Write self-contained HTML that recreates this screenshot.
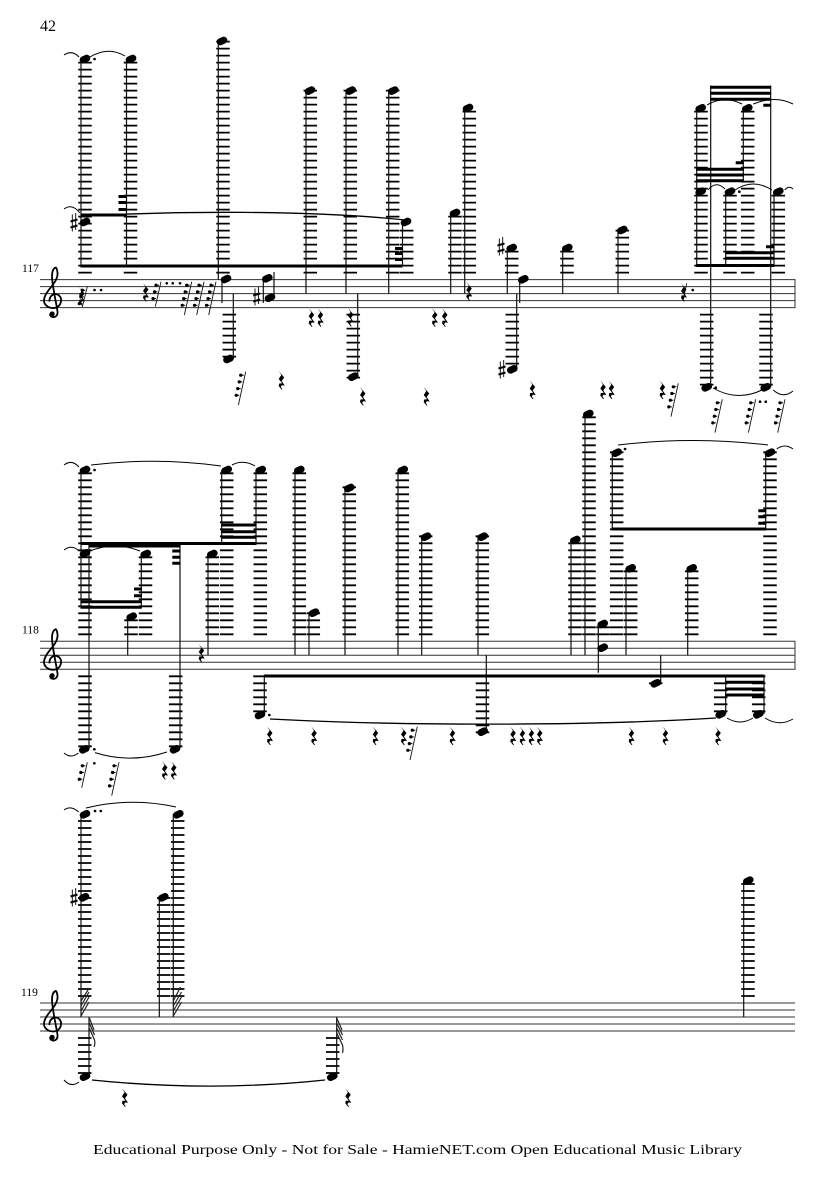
<!DOCTYPE html>
<html><head><meta charset="utf-8"><title>Score page 42</title>
<style>html,body{margin:0;padding:0;background:#fff}svg{display:block}text{font-family:"Liberation Serif",serif;fill:#000}</style></head>
<body>
<svg width="835" height="1181" viewBox="0 0 835 1181" xmlns="http://www.w3.org/2000/svg">
<rect width="835" height="1181" fill="#fff"/>
<text x="40" y="31" font-size="16">42</text>
<text x="22" y="272" font-size="11.5">117</text>
<text x="22" y="633.5" font-size="11.5">118</text>
<text x="21" y="996" font-size="11.5">119</text>
<text x="93" y="1154" font-size="14" textLength="649" lengthAdjust="spacingAndGlyphs">Educational Purpose Only - Not for Sale - HamieNET.com Open Educational Music Library</text>

<!-- staves -->
<path fill="none" stroke="#333" stroke-width="1" d="M40 279.6H795M40 286.6H795M40 293.6H795M40 300.6H795M40 307.6H795M795 279.1V308.1
M40 641.3H795M40 648.3H795M40 655.3H795M40 662.3H795M40 669.3H795M795 640.8V669.8
M40 1003H795M40 1010H795M40 1017H795M40 1024H795M40 1031H795"/>

<!-- clefs -->
<g fill="none" stroke="#000" stroke-width="1.8">
<path transform="translate(53,300.6)" d="M-3.5 1C-4-4 0-7 3-6.5C7-6 8.5-2 8 .5C7.5 5 4 7.5 0 7.5C-5 7.5-9 4-9 0C-9-6-3-12 0-16C3-20 5-24 4.5-28C4-32 3-33.5 2.5-33C0-32-1-28-1-24C-1-16 4 6 4.5 11C5 15 2 17 0 16.5C-2 16.5-3 15-3 13.5"/>
<path transform="translate(53,662.3)" d="M-3.5 1C-4-4 0-7 3-6.5C7-6 8.5-2 8 .5C7.5 5 4 7.5 0 7.5C-5 7.5-9 4-9 0C-9-6-3-12 0-16C3-20 5-24 4.5-28C4-32 3-33.5 2.5-33C0-32-1-28-1-24C-1-16 4 6 4.5 11C5 15 2 17 0 16.5C-2 16.5-3 15-3 13.5"/>
<path transform="translate(53,1024)" d="M-3.5 1C-4-4 0-7 3-6.5C7-6 8.5-2 8 .5C7.5 5 4 7.5 0 7.5C-5 7.5-9 4-9 0C-9-6-3-12 0-16C3-20 5-24 4.5-28C4-32 3-33.5 2.5-33C0-32-1-28-1-24C-1-16 4 6 4.5 11C5 15 2 17 0 16.5C-2 16.5-3 15-3 13.5"/>
</g>
<path fill="#000" d="M49.5 314a2.6 2.6 0 1 0 5.2 0a2.6 2.6 0 1 0-5.2 0zM49.5 675.7a2.6 2.6 0 1 0 5.2 0a2.6 2.6 0 1 0-5.2 0zM49.5 1037.4a2.6 2.6 0 1 0 5.2 0a2.6 2.6 0 1 0-5.2 0z"/>

<!-- ledger lines -->
<path fill="none" stroke="#000" stroke-width="13.5" stroke-dasharray="1.8 5.2" d="
M85 61.7V273.5M130.5 61.7V273.5M223 40.7V273.5M310.3 89.7V273.5M350.3 89.7V273.5M392.7 89.7V273.5M406.7 229.7V273.5M455 215.7V273.5M469.3 110.7V273.5M511.7 250.7V273.5M567 250.7V273.5M622.3 229.7V273.5M701 110.7V273.5M747.7 110.7V273.5M730 194.7V273.5M778.3 194.7V273.5
M229.3 313.7V357.5M353.3 313.7V378.5M512.3 313.7V364.5M706.7 313.7V385.5M766 313.7V385.5
M85 472.4V635.2M145.5 556.4V635.2M131 619.4V635.2M212.3 556.4V635.2M226.7 472.4V635.2M260.3 472.4V635.2M299.3 472.4V635.2M313.3 612.4V635.2M349.3 486.4V635.2M402.3 472.4V635.2M425.7 535.4V635.2M482.3 535.4V635.2M575 542.4V635.2M589 416.4V635.2M603 626.4V635.2M616.7 451.4V635.2M770 451.4V635.2M630.7 570.4V635.2M691.7 570.4V635.2
M85 675.4V747.2M175.7 675.4V747.2M260 675.4V712.2M482.5 675.4V733.2M720.7 675.4V712.2M758.7 675.4V712.2M655.7 675.4V684.2
M84.7 820.1V997M163.7 897.1V997M177.7 820.1V997M748 883.1V997
M84.7 1037.1V1074M332.7 1037.1V1074"/>

<!-- stems -->
<path fill="none" stroke="#111" stroke-width="1.2" d="
M81 59V266M126.5 59V266M218.3 41V280M222 279V303M233.3 293.6V359M263.3 278V303M274 297V272M306 90V293.6M346 90V293.6M388.7 90V293.6M357.7 293.6V377M402.5 222V266M450.7 213V293.6M464.7 108V293.6M507.3 248V293.6M519.7 279V303M516.7 293.6V369M562.7 248V293.6M618 230V293.6M696.7 108V266M743.3 108V181M710.7 85.5V387M770.7 85.5V387M725.7 191V266M774 191V266
M81 470V608M89 544V748M141.3 554V608M127.7 617V655.3M180 545V748M208 554V655.3M221.7 470V543M256 470V544M295 470V655.3M309 612V655.3M345 488V655.3M398 470V655.3M264.3 677V715M421.7 537V655.3M478 537V655.3M486.3 655.3V732M571 540V655.3M585 414V655.3M598.3 624V672.7M612.3 452V529M765.7 452V529M626 568V655.3M687.7 568V655.3M660.7 655.3V683M725.7 676V714M764 676V714
M81 814V1017M159.3 897V1017M173.3 814V1017M89 1017V1076M336.7 1017V1076M743.7 881V1017"/>

<!-- beams -->
<path fill="none" stroke="#000" stroke-width="3" d="
M80.5 215H126.5M118.5 196.5H126.5M118.5 202.5H126.5M118.5 209.5H126.5M80.5 266H402.5M395 248.5H402.5M395 253.5H402.5M395 259.5H402.5
M710 87.3H771M710 93.3H771M710 99.3H771M763.3 105.3H771M696.2 169.3H743.8M696.2 175H743.8M696.2 180.7H743.8M735.7 162.7H743.8M696.2 265.5H774.5M725.2 252.7H774.5M725.2 258.3H774.5M766 246.7H774.5
M80.5 543.5H256.5M88.5 546H180.5M172.3 551H180.5M172.3 557.3H180.5M172.3 563.3H180.5M80.5 601.7H141.8M80.5 607.3H141.8M134 589H141.8M134 595.7H141.8M221.2 525H256.5M221.2 531.7H256.5M221.2 537.3H256.5
M263.8 676H764.5M725.2 682.3H764.5M725.2 689H764.5M725.2 695H764.5M611.8 529H766.2M758.3 510.7H766.2M758.3 516.7H766.2M758.3 523.3H766.2"/>

<!-- note heads -->
<path fill="none" stroke="#000" stroke-width="7" stroke-linecap="round" d="
M82.5 60.1m.7-.25l3.6-1.7M128.5 60.1m.7-.25l3.6-1.7M82.5 223.1m.7-.25l3.6-1.7M403.5 223.1m.7-.25l3.6-1.7M219.5 42.1m.7-.25l3.6-1.7M223.5 280.1m.7-.25l3.6-1.7M226 360.1m.7-.25l3.6-1.7M264.8 279.4m.7-.25l3.6-1.7M267.5 298.8m.7-.25l3.6-1.7M307.5 91.7m.7-.25l3.6-1.7M348.2 91.7m.7-.25l3.6-1.7M390.8 91.7m.7-.25l3.6-1.7M350.8 377.8m.7-.25l3.6-1.7M452.5 214.1m.7-.25l3.6-1.7M465.5 109.1m.7-.25l3.6-1.7M509.2 249.1m.7-.25l3.6-1.7M520.8 280.4m.7-.25l3.6-1.7M509.8 370.4m.7-.25l3.6-1.7M564.8 249.1m.7-.25l3.6-1.7M619.8 231.1m.7-.25l3.6-1.7M698.2 109.4m.7-.25l3.6-1.7M744.8 109.4m.7-.25l3.6-1.7M704.2 388.4m.7-.25l3.6-1.7M763.2 388.4m.7-.25l3.6-1.7M698.2 192.8m.7-.25l3.6-1.7M727.5 192.8m.7-.25l3.6-1.7M775.8 192.8m.7-.25l3.6-1.7
M82.5 471.1m.7-.25l3.6-1.7M81.8 750.4m.7-.25l3.6-1.7M172.5 750.4m.7-.25l3.6-1.7M82.5 554.4m.7-.25l3.6-1.7M143.2 555.1m.7-.25l3.6-1.7M129.2 617.8m.7-.25l3.6-1.7M209.8 555.1m.7-.25l3.6-1.7M224.2 471.1m.7-.25l3.6-1.7M258.2 471.1m.7-.25l3.6-1.7M296.8 471.1m.7-.25l3.6-1.7M311.5 613.8m.7-.25l3.6-1.7M346.8 489.1m.7-.25l3.6-1.7M400.2 471.1m.7-.25l3.6-1.7M257.5 716.1m.7-.25l3.6-1.7M423.5 537.8m.7-.25l3.6-1.7M480.2 537.8m.7-.25l3.6-1.7M480.2 732.8m.7-.25l3.6-1.7M572.8 541.1m.7-.25l3.6-1.7M585.8 415.1m.7-.25l3.6-1.7M600.2 625.1m.7-.25l3.6-1.7M600.2 648.8m.7-.25l3.6-1.7M614.2 453.8m.7-.25l3.6-1.7M767.5 453.8m.7-.25l3.6-1.7M628.2 569.4m.7-.25l3.6-1.7M689.2 569.4m.7-.25l3.6-1.7M653.2 684.4m.7-.25l3.6-1.7M718.2 715.4m.7-.25l3.6-1.7M755.8 715.4m.7-.25l3.6-1.7
M82.5 815.4m.7-.25l3.6-1.7M81.5 898.4m.7-.25l3.6-1.7M160.8 898.4m.7-.25l3.6-1.7M175.8 815.4m.7-.25l3.6-1.7M82.5 1077.8m.7-.25l3.6-1.7M329.8 1077.8m.7-.25l3.6-1.7M745.8 881.8m.7-.25l3.6-1.7"/>

<!-- dots -->
<path fill="none" stroke="#000" stroke-width="2.6" stroke-linecap="round" d="M94.5 59h.1M94.5 290h.1M101 290h.1M166.7 283.3h.1M172.7 283.3h.1M180 283.3h.1M692.7 290h.1M715.7 387.7h.1M739.3 191.7h.1M760 401.7h.1M765.7 401.7h.1M94.5 470h.1M94.3 749.3h.1M94.3 763.3h.1M269.3 715h.1M625 449h.1M95 811h.1M100.7 811h.1"/>

<!-- ties -->
<path fill="none" stroke="#000" stroke-width="1" d="
M64 55Q72 49.5 79 57M90 57Q108 46 125 56M64 209Q72 203 80 213M707 105Q724 95 742 104M753.3 104Q775 95 793 104M708 190Q716 180 725 189M735 190Q753 178 772 190M784.7 190Q789 185 793 189M713 388Q737 402 762 390M773.3 390Q783 399 793 391
M64 465Q72 459 79 467M91 465Q156 457 221 466M232 465Q243 459 255 466M64 550Q72 544 79 551M90 551Q115 541 140 551M64 753Q71 759 78.3 753M95 752.6Q131 764 167 752M618 445Q693 436 768 445M776.7 449Q785 443 793 449M727 718Q740 726 753 718M765 718Q779 727 793 719
M64 810Q71 805 78.5 812M86 808Q131 797 176 807M64 1080Q71 1088 79 1082"/>
<path fill="none" stroke="#000" stroke-width="1.3" d="M82 216C180 211 310 210 405 220M270 719C400 726 590 726 716 718M92 1080C170 1088 250 1088 325 1080"/>

<!-- quarter rests -->
<path fill="#000" d="
M143 283l5.5 6.5-2.5 3.5 3 4.5-3-.3-.8 1.8 1.6 2.5h-1l-2.8-3.5.5-2.5 3-.2-3.5-4.3 2.6-4z
M308.7 308.3l5.5 6.5-2.5 3.5 3 4.5-3-.3-.8 1.8 1.6 2.5h-1l-2.8-3.5.5-2.5 3-.2-3.5-4.3 2.6-4z
M317.7 308.3l5.5 6.5-2.5 3.5 3 4.5-3-.3-.8 1.8 1.6 2.5h-1l-2.8-3.5.5-2.5 3-.2-3.5-4.3 2.6-4z
M348 308l5.5 6.5-2.5 3.5 3 4.5-3-.3-.8 1.8 1.6 2.5h-1l-2.8-3.5.5-2.5 3-.2-3.5-4.3 2.6-4z
M278.7 371l5.5 6.5-2.5 3.5 3 4.5-3-.3-.8 1.8 1.6 2.5h-1l-2.8-3.5.5-2.5 3-.2-3.5-4.3 2.6-4z
M360 387l5.5 6.5-2.5 3.5 3 4.5-3-.3-.8 1.8 1.6 2.5h-1l-2.8-3.5.5-2.5 3-.2-3.5-4.3 2.6-4z
M432 308.3l5.5 6.5-2.5 3.5 3 4.5-3-.3-.8 1.8 1.6 2.5h-1l-2.8-3.5.5-2.5 3-.2-3.5-4.3 2.6-4z
M442 308.3l5.5 6.5-2.5 3.5 3 4.5-3-.3-.8 1.8 1.6 2.5h-1l-2.8-3.5.5-2.5 3-.2-3.5-4.3 2.6-4z
M466.3 282l5.5 6.5-2.5 3.5 3 4.5-3-.3-.8 1.8 1.6 2.5h-1l-2.8-3.5.5-2.5 3-.2-3.5-4.3 2.6-4z
M423.7 387l5.5 6.5-2.5 3.5 3 4.5-3-.3-.8 1.8 1.6 2.5h-1l-2.8-3.5.5-2.5 3-.2-3.5-4.3 2.6-4z
M529.7 380.5l5.5 6.5-2.5 3.5 3 4.5-3-.3-.8 1.8 1.6 2.5h-1l-2.8-3.5.5-2.5 3-.2-3.5-4.3 2.6-4z
M600.3 380.5l5.5 6.5-2.5 3.5 3 4.5-3-.3-.8 1.8 1.6 2.5h-1l-2.8-3.5.5-2.5 3-.2-3.5-4.3 2.6-4z
M608.7 380.5l5.5 6.5-2.5 3.5 3 4.5-3-.3-.8 1.8 1.6 2.5h-1l-2.8-3.5.5-2.5 3-.2-3.5-4.3 2.6-4z
M659.7 380.5l5.5 6.5-2.5 3.5 3 4.5-3-.3-.8 1.8 1.6 2.5h-1l-2.8-3.5.5-2.5 3-.2-3.5-4.3 2.6-4z
M681 283l5.5 6.5-2.5 3.5 3 4.5-3-.3-.8 1.8 1.6 2.5h-1l-2.8-3.5.5-2.5 3-.2-3.5-4.3 2.6-4z
M79 287l5.5 6.5-2.5 3.5 3 4.5-3-.3-.8 1.8 1.6 2.5h-1l-2.8-3.5.5-2.5 3-.2-3.5-4.3 2.6-4z
M162 761l5.5 6.5-2.5 3.5 3 4.5-3-.3-.8 1.8 1.6 2.5h-1l-2.8-3.5.5-2.5 3-.2-3.5-4.3 2.6-4z
M171 761l5.5 6.5-2.5 3.5 3 4.5-3-.3-.8 1.8 1.6 2.5h-1l-2.8-3.5.5-2.5 3-.2-3.5-4.3 2.6-4z
M198.7 644l5.5 6.5-2.5 3.5 3 4.5-3-.3-.8 1.8 1.6 2.5h-1l-2.8-3.5.5-2.5 3-.2-3.5-4.3 2.6-4z
M267 726.5l5.5 6.5-2.5 3.5 3 4.5-3-.3-.8 1.8 1.6 2.5h-1l-2.8-3.5.5-2.5 3-.2-3.5-4.3 2.6-4z
M311.3 726.5l5.5 6.5-2.5 3.5 3 4.5-3-.3-.8 1.8 1.6 2.5h-1l-2.8-3.5.5-2.5 3-.2-3.5-4.3 2.6-4z
M372.7 726.5l5.5 6.5-2.5 3.5 3 4.5-3-.3-.8 1.8 1.6 2.5h-1l-2.8-3.5.5-2.5 3-.2-3.5-4.3 2.6-4z
M401 726.5l5.5 6.5-2.5 3.5 3 4.5-3-.3-.8 1.8 1.6 2.5h-1l-2.8-3.5.5-2.5 3-.2-3.5-4.3 2.6-4z
M449.7 726.5l5.5 6.5-2.5 3.5 3 4.5-3-.3-.8 1.8 1.6 2.5h-1l-2.8-3.5.5-2.5 3-.2-3.5-4.3 2.6-4z
M510.3 726.5l5.5 6.5-2.5 3.5 3 4.5-3-.3-.8 1.8 1.6 2.5h-1l-2.8-3.5.5-2.5 3-.2-3.5-4.3 2.6-4z
M519.7 726.5l5.5 6.5-2.5 3.5 3 4.5-3-.3-.8 1.8 1.6 2.5h-1l-2.8-3.5.5-2.5 3-.2-3.5-4.3 2.6-4z
M528.7 726.5l5.5 6.5-2.5 3.5 3 4.5-3-.3-.8 1.8 1.6 2.5h-1l-2.8-3.5.5-2.5 3-.2-3.5-4.3 2.6-4z
M537 726.5l5.5 6.5-2.5 3.5 3 4.5-3-.3-.8 1.8 1.6 2.5h-1l-2.8-3.5.5-2.5 3-.2-3.5-4.3 2.6-4z
M628.7 726.5l5.5 6.5-2.5 3.5 3 4.5-3-.3-.8 1.8 1.6 2.5h-1l-2.8-3.5.5-2.5 3-.2-3.5-4.3 2.6-4z
M662.7 726.5l5.5 6.5-2.5 3.5 3 4.5-3-.3-.8 1.8 1.6 2.5h-1l-2.8-3.5.5-2.5 3-.2-3.5-4.3 2.6-4z
M715.3 726.5l5.5 6.5-2.5 3.5 3 4.5-3-.3-.8 1.8 1.6 2.5h-1l-2.8-3.5.5-2.5 3-.2-3.5-4.3 2.6-4z
M122 1088.3l5.5 6.5-2.5 3.5 3 4.5-3-.3-.8 1.8 1.6 2.5h-1l-2.8-3.5.5-2.5 3-.2-3.5-4.3 2.6-4z
M345.3 1088.3l5.5 6.5-2.5 3.5 3 4.5-3-.3-.8 1.8 1.6 2.5h-1l-2.8-3.5.5-2.5 3-.2-3.5-4.3 2.6-4z"/>

<!-- 64th rest stems and flags -->
<path fill="none" stroke="#111" stroke-width=".9" d="M87.3 286.7L82.3 307M161 281.7L155.3 306.7M191.7 281.7l-7.3 33.3M204 281.7l-7.3 33.3M216 281.7l-7.3 33.3M245.7 371.7l-7.3 33.3M678.3 383.3l-7.3 33.3M722.3 399.3l-7.3 33.3M755.7 399.3l-7.3 33.3M785 399.3l-7.3 33.3M686.7 283.3L683.3 300M87.3 762.3L81.7 787.7M119 762.3l-7.3 33.3M417.3 726.7l-7.3 33.3"/>
<path fill="none" stroke="#000" stroke-width="1" d="
M82.3 290.2h3m-4.5 6.7h3m-4.5 6.7h3
M156 285.2h3m-4.5 6.7h3m-4.5 6.7h3
M186.7 285.2h3m-4.5 6.7h3m-4.5 6.7h3m-4.5 6.7h3
M199 285.2h3m-4.5 6.7h3m-4.5 6.7h3m-4.5 6.7h3
M211 285.2h3m-4.5 6.7h3m-4.5 6.7h3m-4.5 6.7h3
M240.7 375.2h3m-4.5 6.7h3m-4.5 6.7h3m-4.5 6.7h3
M673.3 386.8h3m-4.5 6.7h3m-4.5 6.7h3m-4.5 6.7h3
M717.3 402.8h3m-4.5 6.7h3m-4.5 6.7h3m-4.5 6.7h3
M750.7 402.8h3m-4.5 6.7h3m-4.5 6.7h3m-4.5 6.7h3
M780 402.8h3m-4.5 6.7h3m-4.5 6.7h3m-4.5 6.7h3
M82.3 765.8h3m-4.5 6.7h3m-4.5 6.7h3
M114 765.8h3m-4.5 6.7h3m-4.5 6.7h3m-4.5 6.7h3
M412.3 730.2h3m-4.5 6.7h3m-4.5 6.7h3m-4.5 6.7h3"/>
<path fill="none" stroke="#000" stroke-width="3.2" stroke-linecap="round" d="
M82.3 290.2h.1m-1.6 6.7h.1m-1.6 6.7h.1
M156 285.2h.1m-1.6 6.7h.1m-1.6 6.7h.1
M186.7 285.2h.1m-1.6 6.7h.1m-1.6 6.7h.1m-1.6 6.7h.1
M199 285.2h.1m-1.6 6.7h.1m-1.6 6.7h.1m-1.6 6.7h.1
M211 285.2h.1m-1.6 6.7h.1m-1.6 6.7h.1m-1.6 6.7h.1
M240.7 375.2h.1m-1.6 6.7h.1m-1.6 6.7h.1m-1.6 6.7h.1
M673.3 386.8h.1m-1.6 6.7h.1m-1.6 6.7h.1m-1.6 6.7h.1
M717.3 402.8h.1m-1.6 6.7h.1m-1.6 6.7h.1m-1.6 6.7h.1
M750.7 402.8h.1m-1.6 6.7h.1m-1.6 6.7h.1m-1.6 6.7h.1
M780 402.8h.1m-1.6 6.7h.1m-1.6 6.7h.1m-1.6 6.7h.1
M82.3 765.8h.1m-1.6 6.7h.1m-1.6 6.7h.1
M114 765.8h.1m-1.6 6.7h.1m-1.6 6.7h.1m-1.6 6.7h.1
M412.3 730.2h.1m-1.6 6.7h.1m-1.6 6.7h.1m-1.6 6.7h.1"/>

<!-- sharps -->
<path fill="none" stroke="#000" stroke-width=".9" d="M72.3 214.5v17m3.4-18.5v17M499.3 238.5v17m3.4-18.5v17M500.3 361.5v17m3.4-18.5v17M255 288.5v17m3.4-18.5v17M72.3 889.5v17m3.4-18.5v17"/>
<path fill="none" stroke="#000" stroke-width="2" d="M70.5 221.5l7-2M70.5 227.5l7-2M497.5 245.5l7-2M497.5 251.5l7-2M498.5 368.5l7-2M498.5 374.5l7-2M253.2 295.5l7-2M253.2 301.5l7-2M70.5 896.5l7-2M70.5 902.5l7-2"/>

<!-- 64th note flags -->
<path fill="none" stroke="#222" stroke-width="1.2" d="M81 1016L89 1002M81 1011L89 997M81 1006L89 992M81 1001L88 990M173.3 1016L181.5 1002M173.3 1011L181.5 997M173.3 1006L181.5 992M173.3 1001L180.5 987M89.3 1018L94 1030M89.3 1023L94.5 1035M89.3 1028L94.5 1040Q95.5 1044 94 1047M336.7 1018L342 1030M336.7 1023L342.5 1035M336.7 1028L342.5 1040M336.7 1033L342.5 1045Q343.5 1050 342.5 1053"/>
</svg>
</body></html>
